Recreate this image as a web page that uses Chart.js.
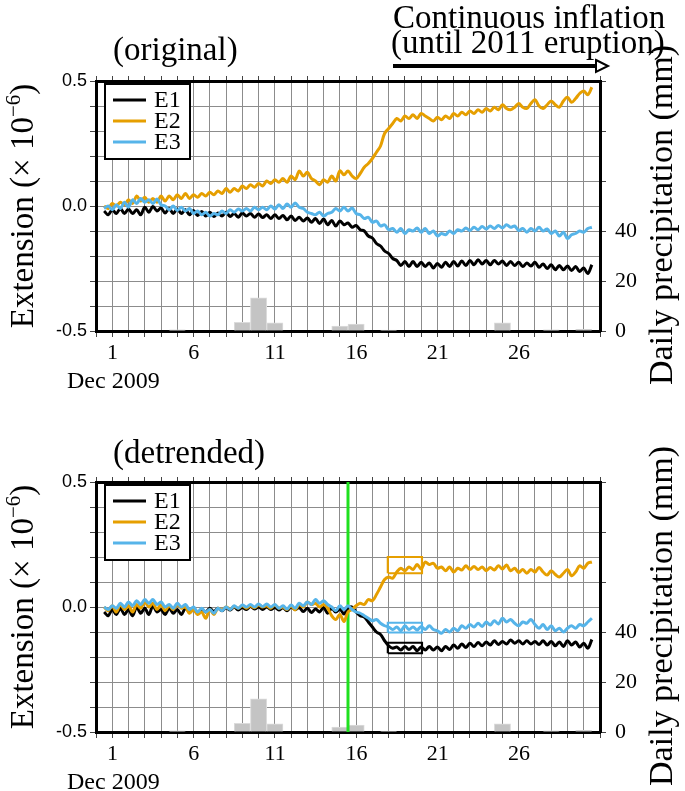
<!DOCTYPE html>
<html>
<head>
<meta charset="utf-8">
<script src="https://cdn.jsdelivr.net/npm/chart.js@4.4.1/dist/chart.umd.min.js"></script>
<style>
html, body { margin: 0; padding: 0; background: #fff; }
#wrap { position: relative; width: 685px; height: 791px; }
canvas { position: absolute; left: 0; }
</style>
</head>
<body>
<div id="wrap">
  <canvas id="top" width="685" height="395" style="top:0"></canvas>
  <canvas id="bottom" width="685" height="396" style="top:395px"></canvas>
</div>
<script>
// strain samples every 6 hours from Dec 1 00:00 (units of 1e-6)
const sampleStepDays = 0.25;

const e1Orig = [
  -0.02, -0.035, -0.015, -0.03,  -0.01, -0.03, -0.012, -0.03,  -0.015, -0.035, -0.005, -0.025,
  -0.002, -0.02, -0.008, -0.028,  -0.01, -0.03, -0.012, -0.03,  -0.015, -0.035, -0.018, -0.038,
  -0.022, -0.04, -0.025, -0.042,  -0.028, -0.04, -0.025, -0.042,  -0.03, -0.045, -0.028, -0.04,
  -0.03, -0.045, -0.032, -0.046,  -0.035, -0.05, -0.035, -0.05,  -0.038, -0.055, -0.04, -0.058,
  -0.045, -0.06, -0.048, -0.065,  -0.05, -0.07, -0.052, -0.075,  -0.058, -0.08, -0.06, -0.075,
  -0.068, -0.085, -0.078, -0.095,  -0.1, -0.12, -0.128, -0.15,  -0.16, -0.18, -0.19, -0.21,
  -0.218, -0.238, -0.222, -0.242,  -0.222, -0.242, -0.225, -0.242,  -0.228, -0.248, -0.23, -0.245,
  -0.225, -0.242, -0.222, -0.24,  -0.22, -0.238, -0.218, -0.235,  -0.215, -0.232, -0.218, -0.235,
  -0.218, -0.232, -0.22, -0.238,  -0.222, -0.238, -0.225, -0.242,  -0.228, -0.24, -0.225, -0.245,
  -0.232, -0.25, -0.235, -0.255,  -0.238, -0.255, -0.24, -0.258,  -0.242, -0.262, -0.248, -0.27,
  -0.235
];
const e2Orig = [
  0.0, -0.01, 0.01, 0.0,  0.015, 0.005, 0.025, 0.01,  0.04, 0.02, 0.035, 0.015,
  0.03, 0.015, 0.04, 0.02,  0.04, 0.025, 0.045, 0.03,  0.05, 0.03, 0.045, 0.035,
  0.05, 0.04, 0.055, 0.045,  0.06, 0.05, 0.07, 0.055,  0.07, 0.06, 0.08, 0.07,
  0.085, 0.075, 0.09, 0.08,  0.1, 0.09, 0.105, 0.095,  0.11, 0.095, 0.12, 0.105,
  0.14, 0.12, 0.135, 0.11,  0.1, 0.085, 0.105, 0.095,  0.12, 0.1, 0.14, 0.125,
  0.14, 0.12, 0.11, 0.13,  0.155, 0.17, 0.19, 0.215,  0.24, 0.29, 0.31, 0.33,
  0.35, 0.34, 0.36, 0.35,  0.365, 0.35, 0.37, 0.36,  0.35, 0.34, 0.355, 0.345,
  0.36, 0.35, 0.37, 0.36,  0.375, 0.365, 0.38, 0.37,  0.385, 0.375, 0.39, 0.38,
  0.395, 0.385, 0.405, 0.39,  0.385, 0.395, 0.41, 0.395,  0.39, 0.41, 0.425, 0.4,
  0.39, 0.405, 0.42, 0.405,  0.395, 0.42, 0.435, 0.415,  0.43, 0.45, 0.46, 0.445,
  0.475
];
const e3Orig = [
  -0.01, 0.0, -0.015, 0.005,  -0.01, 0.015, -0.005, 0.025,  0.01, 0.03, 0.015, 0.025,
  0.01, 0.028, 0.005, 0.0,  -0.015, 0.0, -0.018, -0.005,  -0.02, -0.01, -0.03, -0.02,
  -0.035, -0.025, -0.04, -0.03,  -0.035, -0.02, -0.03, -0.015,  -0.025, -0.012, -0.02, -0.01,
  -0.02, -0.005, -0.015, -0.005,  -0.015, 0.0, -0.012, 0.005,  -0.01, 0.008, -0.005, 0.012,
  -0.005, -0.01, -0.025, -0.03,  -0.035, -0.025, -0.04, -0.03,  -0.025, -0.01, -0.02, -0.005,
  -0.02, -0.008, -0.03, -0.035,  -0.05, -0.045, -0.065, -0.06,  -0.08, -0.075, -0.095, -0.09,
  -0.105, -0.09, -0.11, -0.095,  -0.1, -0.088, -0.105, -0.09,  -0.11, -0.1, -0.12, -0.11,
  -0.115, -0.1, -0.11, -0.095,  -0.1, -0.088, -0.098, -0.085,  -0.095, -0.082, -0.092, -0.08,
  -0.09, -0.078, -0.088, -0.075,  -0.085, -0.08, -0.098, -0.09,  -0.105, -0.09, -0.1, -0.085,
  -0.1, -0.092, -0.11, -0.1,  -0.12, -0.105, -0.13, -0.115,  -0.11, -0.1, -0.105, -0.09,
  -0.085
];

const e1Detr = [
  -0.02, -0.035, -0.01, -0.03,  -0.005, -0.03, -0.01, -0.035,  0.0, -0.025, -0.005, -0.03,
  0.005, -0.02, -0.01, -0.03,  -0.005, -0.025, -0.01, -0.03,  -0.005, -0.02, -0.008, -0.025,
  -0.01, -0.02, -0.005, -0.018,  -0.005, -0.015, -0.003, -0.012,  0.0, -0.012, -0.002, -0.01,
  0.002, -0.008, 0.0, -0.01,  0.0, -0.01, -0.002, -0.012,  -0.003, -0.015, 0.0, -0.01,
  -0.002, -0.018, -0.005, -0.022,  -0.008, -0.02, -0.002, -0.025,  -0.005, -0.02, -0.008, -0.028,
  -0.005, 0.0, -0.02, -0.035,  -0.04, -0.06, -0.08, -0.1,  -0.11, -0.135, -0.155, -0.165,
  -0.16, -0.172, -0.158, -0.17,  -0.158, -0.175, -0.16, -0.172,  -0.158, -0.172, -0.16, -0.175,
  -0.158, -0.17, -0.152, -0.165,  -0.148, -0.162, -0.145, -0.158,  -0.142, -0.155, -0.14, -0.152,
  -0.135, -0.15, -0.138, -0.148,  -0.132, -0.145, -0.135, -0.148,  -0.135, -0.148, -0.138, -0.15,
  -0.135, -0.152, -0.138, -0.155,  -0.14, -0.158, -0.135, -0.152,  -0.14, -0.16, -0.145, -0.165,
  -0.13
];
const e2Detr = [
  0.0, -0.015, 0.005, -0.02,  0.01, -0.01, 0.005, -0.02,  0.01, -0.005, 0.02, 0.0,
  0.015, -0.01, 0.01, -0.015,  0.005, -0.01, 0.01, -0.005,  0.0, -0.025, -0.01, -0.03,
  -0.02, -0.045, -0.01, -0.03,  -0.005, -0.012, 0.0, -0.008,  0.002, -0.005, 0.005, -0.005,
  0.005, -0.003, 0.008, 0.0,  0.005, -0.005, 0.008, -0.005,  0.0, -0.01, 0.005, -0.012,
  0.01, 0.0, 0.02, 0.01,  0.015, 0.0, 0.01, -0.005,  -0.035, -0.05, -0.03, -0.058,
  -0.02, -0.01, 0.005, 0.015,  0.01, 0.03, 0.025, 0.05,  0.08, 0.11, 0.12, 0.115,
  0.14, 0.155, 0.145, 0.16,  0.15, 0.17, 0.152, 0.18,  0.17, 0.175, 0.155, 0.16,
  0.145, 0.16, 0.14, 0.155,  0.148, 0.165, 0.15, 0.162,  0.15, 0.16, 0.145, 0.158,
  0.148, 0.165, 0.152, 0.168,  0.145, 0.155, 0.138, 0.15,  0.135, 0.15, 0.14, 0.158,
  0.14, 0.128, 0.145, 0.13,  0.12, 0.135, 0.15, 0.125,  0.14, 0.165, 0.155, 0.175,
  0.18
];
const e3Detr = [
  0.0, -0.01, 0.005, -0.005,  0.015, 0.0, 0.02, 0.005,  0.025, 0.01, 0.03, 0.015,
  0.03, 0.01, 0.02, 0.0,  0.01, -0.005, 0.015, 0.0,  0.01, -0.01, 0.0, -0.02,
  -0.005, -0.02, -0.01, -0.025,  -0.005, -0.015, 0.0, -0.01,  0.005, -0.005, 0.008, 0.0,
  0.01, 0.0, 0.012, 0.002,  0.012, 0.0, 0.01, -0.005,  0.005, -0.008, 0.008, -0.005,
  0.015, 0.005, 0.02, 0.01,  0.03, 0.015, 0.025, 0.01,  0.0, -0.015, 0.005, -0.01,
  0.005, -0.01, -0.02, -0.025,  -0.035, -0.045, -0.055, -0.05,  -0.065, -0.075, -0.08, -0.09,
  -0.08, -0.095, -0.075, -0.09,  -0.08, -0.092, -0.078, -0.09,  -0.075, -0.09, -0.095, -0.105,
  -0.09, -0.1, -0.085, -0.095,  -0.075, -0.085, -0.07, -0.08,  -0.065, -0.078, -0.06, -0.072,
  -0.055, -0.068, -0.045, -0.06,  -0.05, -0.065, -0.075, -0.06,  -0.065, -0.05, -0.07, -0.085,
  -0.07, -0.09, -0.075, -0.095,  -0.085, -0.1, -0.085, -0.075,  -0.085, -0.07, -0.075, -0.06,
  -0.045
];

// daily precipitation, Dec 1 .. Dec 30 (mm)
const precipMm = [0, 0, 0, 0, 0.5, 0, 0, 0, 3.5, 13.3, 3.3, 0, 0, 0, 2, 2.8, 0, 0.4, 0, 0,
                  0, 0, 0, 0, 3.3, 0, 0, 0.5, 0, 0.7];

// axis ticks
const xTickDays = [0, 5, 10, 15, 20, 25];
const xTickLabels = ['1', '6', '11', '16', '21', '26'];
const leftTickValues = [-0.5, 0, 0.5];
const leftTickLabels = ['-0.5', '0.0', '0.5'];
const rightTickValues = [0, 20, 40];
const rightTickLabels = ['0', '20', '40'];

// detrended panel extras
const eventDay = 15;
const boxDays = [17.45, 19.55];
const boxE1 = [-0.185, -0.143];
const boxE2 = [0.135, 0.2];
const boxE3 = [-0.102, -0.063];

const seriesNames = ['E1', 'E2', 'E3'];
const colors = ['#000000', '#E69F00', '#56B4E9'];

const SERIF = '"Liberation Serif", "Times New Roman", serif';
const SANS = '"Liberation Sans", Arial, sans-serif';

function toXY(arr) {
    return arr.map((v, i) => ({x: i * sampleStepDays, y: v}));
}
function rect(xs, ys) {
    return [{x: xs[0], y: ys[0]}, {x: xs[1], y: ys[0]}, {x: xs[1], y: ys[1]},
            {x: xs[0], y: ys[1]}, {x: xs[0], y: ys[0]}];
}
function pick(v, vals, labels) {
    for (let i = 0; i < vals.length; i++) {
        if (Math.abs(v - vals[i]) < 1e-6) return labels[i];
    }
    return '';
}

const decorations = {
    id: 'decorations',
    afterDatasetsDraw(chart, args, opts) {
        const ctx = chart.ctx;
        const a = chart.chartArea;
        ctx.save();
        ctx.fillStyle = '#000';

        // panel title
        ctx.font = '33px ' + SERIF;
        ctx.textBaseline = 'middle';
        ctx.textAlign = 'left';
        ctx.fillText(opts.title, 113, opts.titleY);

        // legend
        const lx = a.left + 9, ly = a.top + 3;
        ctx.fillStyle = '#fff';
        ctx.fillRect(lx, ly, 85, 75);
        ctx.strokeStyle = '#000';
        ctx.lineWidth = 2;
        ctx.strokeRect(lx, ly, 85, 75);
        ctx.font = '24px ' + SERIF;
        for (let i = 0; i < seriesNames.length; i++) {
            const ry = a.top + 19 + i * 21;
            ctx.strokeStyle = colors[i];
            ctx.lineWidth = 3;
            ctx.beginPath();
            ctx.moveTo(a.left + 17, ry);
            ctx.lineTo(a.left + 50, ry);
            ctx.stroke();
            ctx.fillStyle = '#000';
            ctx.fillText(seriesNames[i], a.left + 58, ry + 1);
        }

        // "Dec 2009"
        ctx.font = '24px ' + SERIF;
        ctx.textBaseline = 'middle';
        ctx.fillText('Dec 2009', 67, a.bottom + 51);

        // left axis title with superscript
        const midY = (a.top + a.bottom) / 2;
        ctx.save();
        ctx.translate(22, midY);
        ctx.rotate(-Math.PI / 2);
        const big = '33px ' + SERIF, small = '21px ' + SERIF;
        ctx.font = big;
        const p1 = 'Extension (\u00d7 10', p3 = ')';
        const w1 = ctx.measureText(p1).width, w3 = ctx.measureText(p3).width;
        ctx.font = small;
        const p2 = '\u22126';
        const w2 = ctx.measureText(p2).width;
        let x0 = -(w1 + w2 + w3) / 2;
        ctx.textBaseline = 'alphabetic';
        ctx.font = big;
        ctx.fillText(p1, x0, 11);
        ctx.font = small;
        ctx.fillText(p2, x0 + w1, -2);
        ctx.font = big;
        ctx.fillText(p3, x0 + w1 + w2, 11);
        ctx.restore();

        // right axis title
        ctx.save();
        ctx.translate(663, a.top + 134);
        ctx.rotate(-Math.PI / 2);
        ctx.font = '34px ' + SERIF;
        ctx.textAlign = 'center';
        ctx.textBaseline = 'middle';
        ctx.fillText('Daily precipitation (mm)', 0, 0);
        ctx.restore();

        if (opts.arrow) {
            ctx.font = '33px ' + SERIF;
            ctx.textAlign = 'left';
            ctx.textBaseline = 'alphabetic';
            ctx.fillText('Continuous inflation', 393, 28);
            ctx.fillText('(until 2011 eruption)', 391, 53);
            ctx.strokeStyle = '#000';
            ctx.lineWidth = 4;
            ctx.beginPath();
            ctx.moveTo(393, 66);
            ctx.lineTo(597, 66);
            ctx.stroke();
            ctx.lineWidth = 2;
            ctx.fillStyle = '#fff';
            ctx.beginPath();
            ctx.moveTo(596, 60);
            ctx.lineTo(608, 66);
            ctx.lineTo(596, 72);
            ctx.closePath();
            ctx.fill();
            ctx.stroke();
        }
        ctx.restore();
    }
};

function makePanel(id, e1, e2, e3, opts) {
    const datasets = [];
    datasets.push({
        type: 'bar',
        data: precipMm.map((v, i) => ({x: i + 0.5, y: v})),
        yAxisID: 'y2',
        xAxisID: 'x',
        backgroundColor: '#c4c4c4',
        borderColor: '#dcdcdc',
        borderWidth: 1,
        barPercentage: 1,
        categoryPercentage: 1,
        order: 10
    });
    if (opts.detrended) {
        datasets.push({
            type: 'line',
            data: [{x: eventDay, y: -0.5}, {x: eventDay, y: 0.5}],
            borderColor: '#1fe01f',
            borderWidth: 3,
            pointRadius: 0,
            order: 5
        });
        const boxes = [boxE1, boxE2, boxE3];
        boxes.forEach((b, i) => {
            datasets.push({
                type: 'line',
                data: rect(boxDays, b),
                borderColor: colors[i],
                borderWidth: 2.2,
                pointRadius: 0,
                tension: 0,
                order: 1
            });
        });
    }
    [e3, e2, e1].forEach((arr, k) => {
        const i = 2 - k;
        datasets.push({
            type: 'line',
            data: toXY(arr),
            borderColor: colors[i],
            borderWidth: 3,
            pointRadius: 0,
            tension: 0.35,
            order: 2 + k
        });
    });

    const tickGrid = {color: '#8c8c8c', lineWidth: 1, tickLength: 6, tickColor: '#444'};

    return new Chart(document.getElementById(id), {
        type: 'bar',
        data: {datasets: datasets},
        options: {
            responsive: false,
            animation: false,
            layout: {padding: 0},
            plugins: {legend: {display: false}, tooltip: {enabled: false}, decorations: opts},
            scales: {
                x: {
                    type: 'linear', position: 'bottom', min: 0, max: 30,
                    grid: tickGrid,
                    border: {color: '#000', width: 3},
                    ticks: {
                        stepSize: 1, autoSkip: false, maxRotation: 0, minRotation: 0,
                        labelOffset: 8.4, padding: 3, color: '#000',
                        font: {family: SERIF, size: 22},
                        callback: v => pick(v, xTickDays, xTickLabels)
                    },
                    afterFit: s => { s.height = opts.bottomH; }
                },
                xTop: {
                    type: 'linear', position: 'top', min: 0, max: 30,
                    grid: {drawOnChartArea: false, tickLength: 5, tickColor: '#444'},
                    border: {color: '#000', width: 3},
                    ticks: {stepSize: 1, display: false},
                    afterFit: s => { s.height = opts.topH; }
                },
                y: {
                    position: 'left', min: -0.5, max: 0.5,
                    grid: tickGrid,
                    border: {color: '#000', width: 3},
                    ticks: {
                        stepSize: 0.1, color: '#000', padding: 3,
                        font: {family: SANS, size: 18},
                        callback: v => pick(v, leftTickValues, leftTickLabels)
                    },
                    afterFit: s => { s.width = 96; }
                },
                y2: {
                    position: 'right', min: 0, max: 100,
                    grid: {drawOnChartArea: false, tickLength: 6, tickColor: '#444'},
                    border: {color: '#000', width: 3},
                    ticks: {
                        stepSize: 10, color: '#000', padding: 9,
                        font: {family: SERIF, size: 22},
                        callback: v => pick(v, rightTickValues, rightTickLabels)
                    },
                    afterFit: s => { s.width = 85; }
                }
            }
        },
        plugins: [decorations]
    });
}

makePanel('top', e1Orig, e2Orig, e3Orig,
    {title: '(original)', titleY: 51, topH: 81, bottomH: 64, arrow: true, detrended: false});
makePanel('bottom', e1Detr, e2Detr, e3Detr,
    {title: '(detrended)', titleY: 59, topH: 87, bottomH: 59, arrow: false, detrended: true});
</script>
</body>
</html>
